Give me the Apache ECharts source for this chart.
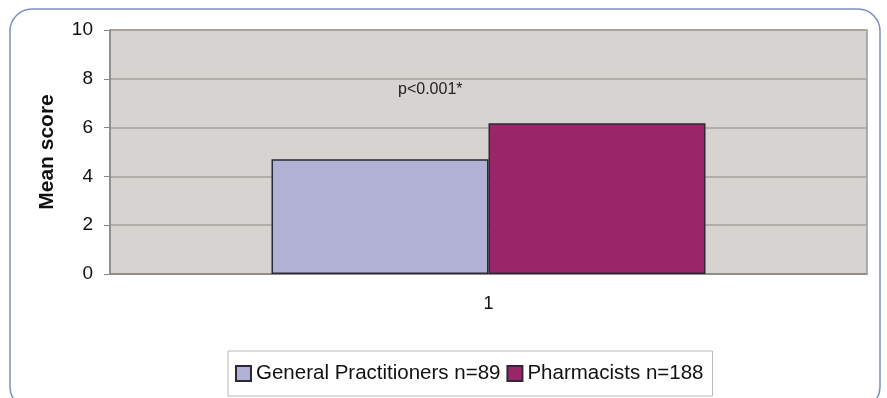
<!DOCTYPE html>
<html>
<head>
<meta charset="utf-8">
<script src="https://cdn.jsdelivr.net/npm/echarts@6/dist/echarts.min.js"></script>
<style>
  html, body { margin: 0; padding: 0; background: #fff; }
  #chart { width: 887px; height: 398px; }
</style>
</head>
<body>
<div id="chart"></div>
<script>
// Mean score by respondent group
const categories = ['1'];
const seriesNames = ['General Practitioners n=89', 'Pharmacists n=188'];
const gpValues = [4.7];
const pharmacistValues = [6.18];
const seriesColors = ['#b1b1d6', '#9a2669'];
const yTicks = { min: 0, max: 10, interval: 2 };
const annotation = 'p<0.001*';

const chart = echarts.init(document.getElementById('chart'));
const font = '"Liberation Sans", Arial, sans-serif';

chart.setOption({
  animation: false,
  graphic: [
    {
      type: 'rect',
      shape: { x: 10, y: 9, width: 870, height: 400, r: 22 },
      style: { fill: 'none', stroke: '#7d8dbf', lineWidth: 1.5 },
      z: 0
    },
    {
      type: 'text',
      x: 398,
      y: 90,
      style: { text: annotation, fontSize: 16, fontFamily: font, fill: '#222', verticalAlign: 'middle' },
      z: 10
    }
  ],
  grid: {
    left: 110, top: 30, width: 757, height: 244,
    show: true,
    backgroundColor: '#d7d3d0',
    borderColor: '#9c9894',
    borderWidth: 1.5
  },
  legend: {
    left: 228, top: 351,
    itemWidth: 15, itemHeight: 15, itemGap: 6,
    padding: [12, 9, 12, 7],
    borderColor: '#b8b8b8', borderWidth: 1,
    backgroundColor: '#fff',
    icon: 'rect',
    textStyle: { fontSize: 20.5, fontFamily: font, color: '#111' },
    data: seriesNames
  },
  xAxis: {
    type: 'category',
    data: categories,
    axisLine: { show: true, lineStyle: { color: '#8a8682', width: 1.5 } },
    axisTick: { show: false },
    axisLabel: { fontSize: 18, fontFamily: font, color: '#111', margin: 21 }
  },
  yAxis: {
    type: 'value',
    min: yTicks.min, max: yTicks.max, interval: yTicks.interval,
    name: 'Mean score',
    nameLocation: 'middle',
    nameGap: 52,
    nameTextStyle: { fontSize: 21, fontWeight: 'bold', fontFamily: font, color: '#111' },
    axisLine: { show: true, lineStyle: { color: '#8a8682', width: 1.5 } },
    axisTick: { show: true, length: 6, lineStyle: { color: '#8a8682' } },
    axisLabel: { fontSize: 19, fontFamily: font, color: '#111', margin: 17 },
    splitLine: { show: true, lineStyle: { color: '#a5a19d', width: 1.5 } }
  },
  series: [
    {
      name: seriesNames[0],
      type: 'bar',
      data: gpValues,
      barWidth: 217,
      barGap: '0%',
      itemStyle: { color: seriesColors[0], borderColor: '#2a2a35', borderWidth: 1.5 }
    },
    {
      name: seriesNames[1],
      type: 'bar',
      data: pharmacistValues,
      barWidth: 217,
      barGap: '0%',
      itemStyle: { color: seriesColors[1], borderColor: '#2a2a35', borderWidth: 1.5 }
    }
  ]
});
</script>
</body>
</html>
